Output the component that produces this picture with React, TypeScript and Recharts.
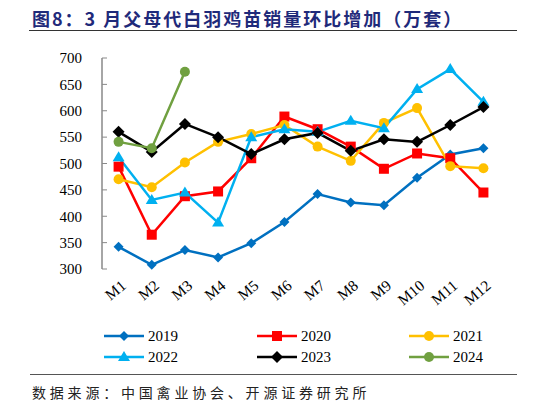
import React from 'react';
import { LineChart, Line, XAxis, YAxis } from 'recharts';

const months = ['M1', 'M2', 'M3', 'M4', 'M5', 'M6', 'M7', 'M8', 'M9', 'M10', 'M11', 'M12'];
const s2019 = [342, 308, 336, 322, 349, 389, 442, 426, 421, 473, 517, 529];
const s2020 = [494, 365, 438, 447, 510, 589, 565, 532, 490, 519, 510, 445];
const s2021 = [470, 455, 502, 541, 556, 573, 532, 505, 577, 605, 495, 491];
const s2022 = [512, 431, 445, 388, 550, 565, 560, 581, 567, 641, 679, 617];
const s2023 = [560, 522, 575, 550, 518, 546, 558, 524, 546, 541, 573, 607];
const s2024 = [541, 529, 674];
const yTicks = [300, 350, 400, 450, 500, 550, 600, 650, 700];
const title = '图8：3 月父母代白羽鸡苗销量环比增加（万套）';
const source = '数据来源：中国禽业协会、开源证券研究所';

const data = months.map((m, i) => ({
  idx: i + 1,
  m,
  y2019: s2019[i],
  y2020: s2020[i],
  y2021: s2021[i],
  y2022: s2022[i],
  y2023: s2023[i],
  y2024: i < s2024.length ? s2024[i] : null,
}));

type Shape = 'diamond' | 'square' | 'circle' | 'triangle' | 'bigdiamond';

const series: { key: string; name: string; color: string; shape: Shape }[] = [
  { key: 'y2019', name: '2019', color: '#0070C0', shape: 'diamond' },
  { key: 'y2020', name: '2020', color: '#FF0000', shape: 'square' },
  { key: 'y2021', name: '2021', color: '#FFC000', shape: 'circle' },
  { key: 'y2022', name: '2022', color: '#00B0F0', shape: 'triangle' },
  { key: 'y2023', name: '2023', color: '#000000', shape: 'bigdiamond' },
  { key: 'y2024', name: '2024', color: '#70A040', shape: 'circle' },
];

function marker(shape: Shape, cx: number, cy: number, color: string, k?: string | number) {
  switch (shape) {
    case 'diamond':
      return <polygon key={k} points={`${cx},${cy - 5} ${cx + 5},${cy} ${cx},${cy + 5} ${cx - 5},${cy}`} fill={color} />;
    case 'bigdiamond':
      return <polygon key={k} points={`${cx},${cy - 6} ${cx + 6},${cy} ${cx},${cy + 6} ${cx - 6},${cy}`} fill={color} />;
    case 'square':
      return <rect key={k} x={cx - 5} y={cy - 5} width={10} height={10} fill={color} />;
    case 'circle':
      return <circle key={k} cx={cx} cy={cy} r={5} fill={color} />;
    case 'triangle':
      return <polygon key={k} points={`${cx},${cy - 6} ${cx + 6},${cy + 4} ${cx - 6},${cy + 4}`} fill={color} />;
  }
  return null;
}

const makeDot = (shape: Shape, color: string) => (props: any) => {
  const { cx, cy, index } = props;
  if (cx == null || cy == null || props.value == null) return <g key={index} />;
  return marker(shape, cx, cy, color, index);
};

const XLabel = (props: any) => {
  const { x, y, payload } = props;
  const label = months[Math.round(payload.value) - 1];
  return (
    <g transform={`translate(${x + 5}, ${y + 14})`}>
      <text
        x={0}
        y={0}
        transform="rotate(-40)"
        textAnchor="end"
        dominantBaseline="central"
        fontFamily="'Liberation Serif', serif"
        fontSize={15.5}
        fill="#000"
      >
        {label}
      </text>
    </g>
  );
};

const Legend = () => {
  const cols = [104, 257, 409];
  const rows = [336, 357];
  return (
    <svg width={546} height={404} style={{ position: 'absolute', left: 0, top: 0, pointerEvents: 'none' }}>
      {series.map((s, i) => {
        const x = cols[i % 3];
        const y = rows[Math.floor(i / 3)];
        return (
          <g key={s.key}>
            <line x1={x} x2={x + 40} y1={y} y2={y} stroke={s.color} strokeWidth={2.5} />
            {marker(s.shape, x + 20, y, s.color)}
            <text x={x + 44} y={y} dy="0.35em" fontFamily="'Liberation Serif', serif" fontSize={15} fill="#000">
              {s.name}
            </text>
          </g>
        );
      })}
    </svg>
  );
};

export default function App() {
  const boundaryTicks = [0.5, ...months.map((_, i) => i + 1.5)];
  return (
    <div style={{ position: 'fixed', left: 0, top: 0, width: 546, height: 404, background: '#fff', overflow: 'hidden' }}>
      <div
        style={{
          position: 'absolute',
          left: 32,
          top: 6,
          fontFamily: "'Noto Sans CJK SC', sans-serif",
          fontWeight: 700,
          fontSize: 18,
          letterSpacing: 2,
          color: '#1F2A7A',
          whiteSpace: 'nowrap',
          lineHeight: '24px',
        }}
      >
        {title}
      </div>
      <div style={{ position: 'absolute', left: 29, top: 30, width: 488, height: 1, background: '#333' }} />
      <div style={{ position: 'absolute', left: 0, top: 0 }}>
        <LineChart width={546} height={404} data={data} margin={{ top: 58, right: 46, left: 42, bottom: 95 }}>
          <XAxis
            xAxisId="t"
            dataKey="idx"
            type="number"
            domain={[0.5, 12.5]}
            ticks={boundaryTicks}
            tick={false}
            tickSize={-5}
            height={0}
            axisLine={{ stroke: '#898989', strokeWidth: 1.5 }}
            tickLine={{ stroke: '#898989', strokeWidth: 1 }}
            allowDataOverflow
          />
          <XAxis
            xAxisId="l"
            dataKey="idx"
            type="number"
            domain={[0.5, 12.5]}
            ticks={months.map((_, i) => i + 1)}
            interval={0}
            tick={<XLabel />}
            tickSize={0}
            tickMargin={0}
            axisLine={false}
            tickLine={false}
            height={40}
          />
          <YAxis
            domain={[300, 700]}
            ticks={yTicks}
            interval={0}
            width={60}
            tickSize={-5}
            tickMargin={25}
            axisLine={{ stroke: '#898989', strokeWidth: 1.5 }}
            tickLine={{ stroke: '#898989', strokeWidth: 1 }}
            tick={{ fontFamily: "'Liberation Serif', serif", fontSize: 15, fill: '#000' }}
          />
          {series.map((s) => (
            <Line
              key={s.key}
              xAxisId="t"
              dataKey={s.key}
              name={s.name}
              stroke={s.color}
              strokeWidth={2.5}
              dot={makeDot(s.shape, s.color)}
              activeDot={false}
              isAnimationActive={false}
              connectNulls={false}
            />
          ))}
        </LineChart>
      </div>
      <Legend />
      <div style={{ position: 'absolute', left: 30, top: 374, width: 487, height: 1, background: '#555' }} />
      <div
        style={{
          position: 'absolute',
          left: 32,
          top: 382,
          fontFamily: "'Noto Sans CJK SC', sans-serif",
          fontSize: 14,
          letterSpacing: 3.8,
          color: '#222',
          whiteSpace: 'nowrap',
          lineHeight: '20px',
        }}
      >
        {source}
      </div>
    </div>
  );
}
